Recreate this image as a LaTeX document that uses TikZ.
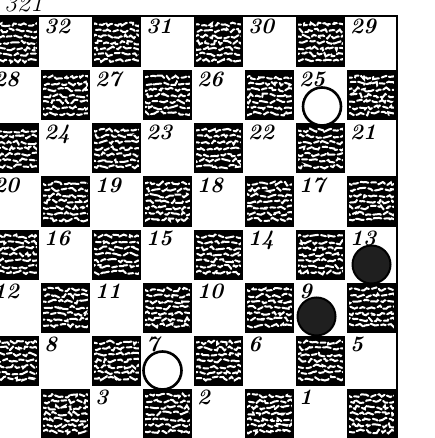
\documentclass[tikz,border=0pt]{standalone}
\usepackage{tikz}
\usetikzlibrary{calc,decorations.pathmorphing}
\tikzset{
  sq-grain/.style={white,line width=2pt,line cap=round,
    dash pattern=on 8pt off 3pt on 5pt off 2.5pt,
    decorate,decoration={random steps,segment length=3pt,amplitude=2pt}},
  sq-dark/.style={draw=black,line width=2pt,fill=black,inner sep=0pt,
    minimum width=47pt,minimum height=48pt,
    path picture={
      \foreach \k in {1,...,7}
        \draw[sq-grain,dash phase=\k*4pt]
          ($(path picture bounding box.north west)!{\k/8}!(path picture bounding box.south west)$)
          -- ($(path picture bounding box.north east)!{\k/8}!(path picture bounding box.south east)$);
    }},
  sq-num/.style={anchor=north west,inner sep=1pt,
    font=\fontsize{22}{22}\selectfont\bfseries\itshape},
  piece-white/.style={circle,draw=black,line width=2.6pt,fill=white,
    minimum size=38pt,inner sep=0pt},
  piece-black/.style={circle,draw=black,line width=2pt,fill=black!88,
    minimum size=38pt,inner sep=0pt},
  board-edge/.style={draw=black,line width=1.8pt},
}
\begin{document}
\begin{tikzpicture}[x=1pt,y=-1pt]
  \clip (0,0) rectangle (434,438);
  \node[anchor=base west,inner sep=0pt,font=\fontsize{26}{26}\selectfont\itshape]
    (ttl) at (4,12) {321};
  % board: dark squares, numbers on the light ones
  \foreach \r in {1,...,8}{
    \foreach \c in {1,...,8}{
      \pgfmathtruncatemacro\sqodd{mod(\r+\c,2)}
      \pgfmathtruncatemacro\sqnum{36-4*\r-int((\c-1)/2)}
      \ifnum\sqodd=0
        \node[sq-dark] (d-\r-\c) at ({-11+(\c-0.5)*51},{16+(\r-0.5)*53}) {};
      \else
        \coordinate (c-\sqnum) at ({-11+(\c-0.5)*51},{16+(\r-0.5)*53});
        \ifnum\sqnum=4 \else
          \node[sq-num] (n-\sqnum) at ({-11+(\c-1)*51+3},{16+(\r-1)*53+2}) {\sqnum};
        \fi
      \fi
    }
  }
  \coordinate (edge-tl) at (-11,16);
  \coordinate (edge-tr) at (397,16);
  \coordinate (edge-br) at (397,438);
  \draw[board-edge] (edge-tl) -- (edge-tr) -- (edge-br);
  % pieces
  \node[piece-white] (p-25) at ([xshift=1.5pt,yshift=-11pt]c-25) {};
  \node[piece-white] (p-7)  at ([xshift=-5pt,yshift=-10pt]c-7) {};
  \node[piece-black] (p-13) at ([yshift=-10pt]c-13) {};
  \node[piece-black] (p-9)  at ([xshift=-4pt,yshift=-9pt]c-9) {};
\end{tikzpicture}
\end{document}
